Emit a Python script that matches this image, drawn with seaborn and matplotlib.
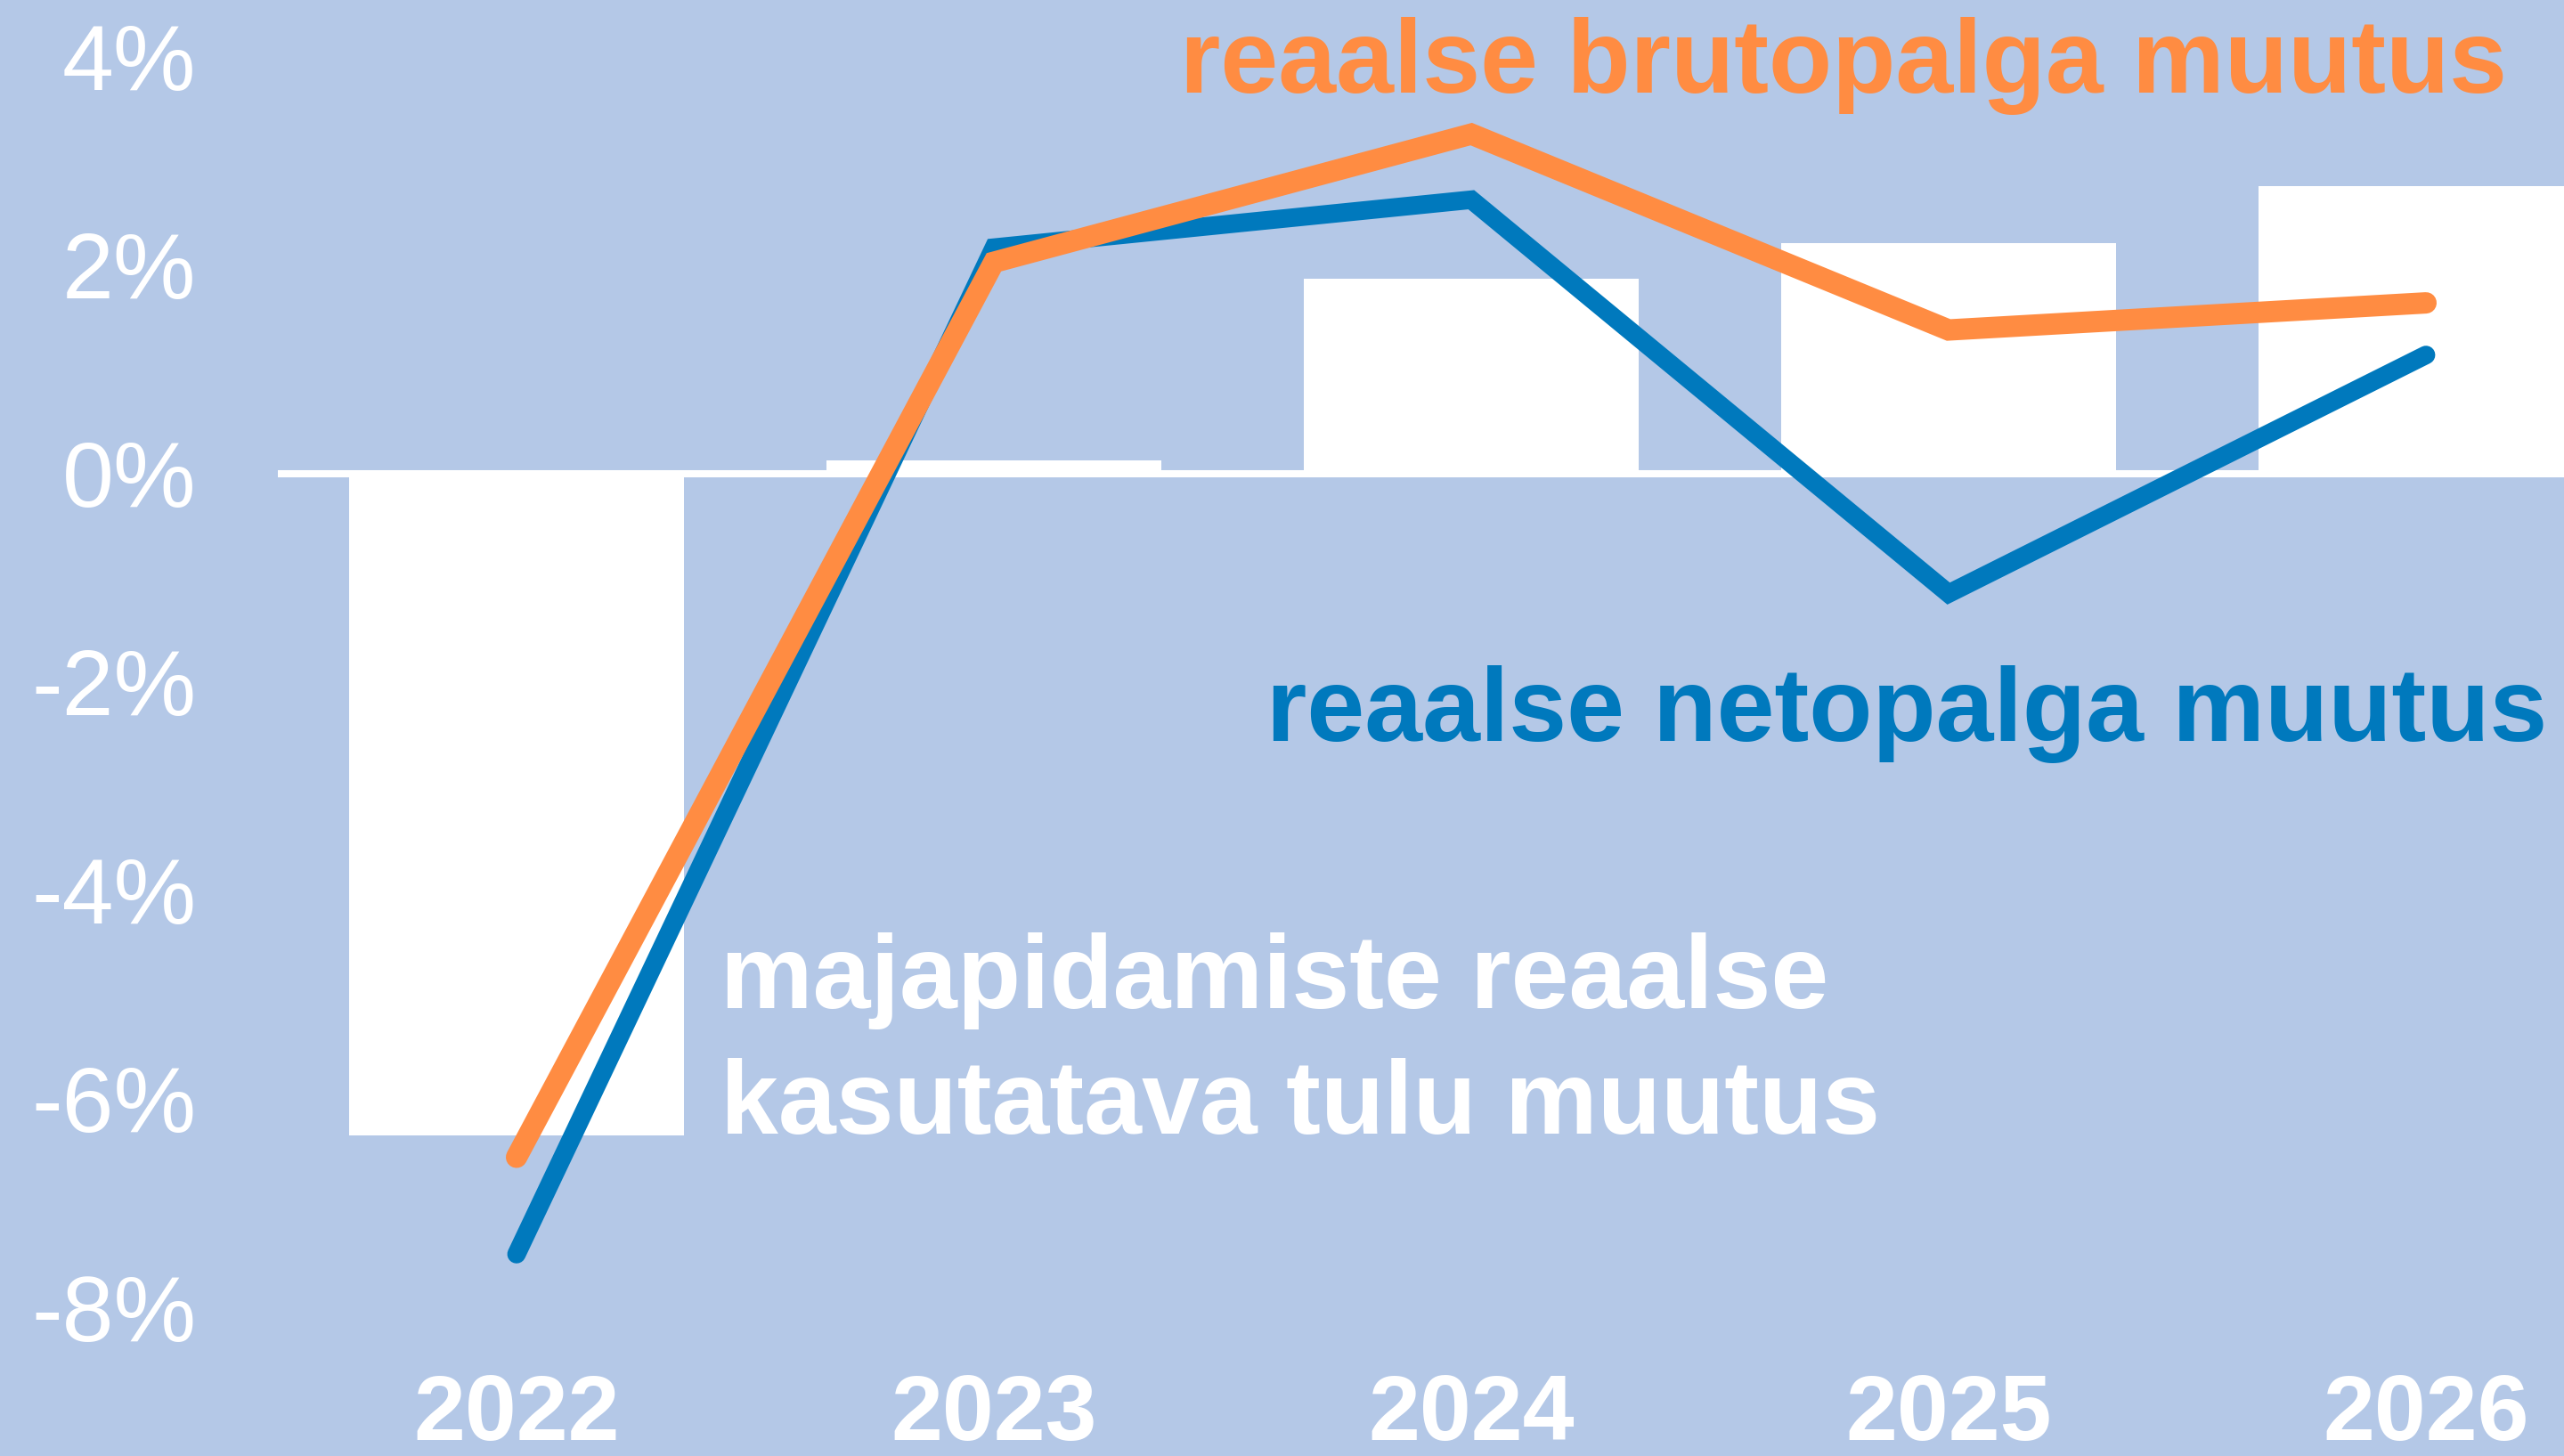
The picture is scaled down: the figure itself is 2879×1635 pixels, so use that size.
import pandas as pd
import numpy as np
import seaborn as sns
import matplotlib.pyplot as plt

# andmed (protsentides), loetud jooniselt
aastad = [2022, 2023, 2024, 2025, 2026]
kasutatav_tulu = [-6.35, 0.13, 1.87, 2.21, 2.76]   # valged tulbad
brutopalk = [-6.56, 2.03, 3.26, 1.38, 1.64]
netopalk = [-7.49, 2.17, 2.63, -1.15, 1.14]
y_ticks = [-8, -6, -4, -2, 0, 2, 4]
y_labels = ['-8%', '-6%', '-4%', '-2%', '0%', '2%', '4%']
x_labels = ['2022', '2023', '2024', '2025', '2026']

taust = '#B4C8E7'
oranz = '#FF8C42'
sinine = '#0079BD'

df = pd.DataFrame({'aasta': aastad, 'tulu': kasutatav_tulu,
                   'bruto': brutopalk, 'neto': netopalk})

sns.set_theme(style='white', rc={'axes.facecolor': taust, 'figure.facecolor': taust})
plt.rcParams['font.family'] = ['Liberation Sans', 'DejaVu Sans']

fig = plt.figure(figsize=(28.79, 16.35), dpi=100)
# telg ulatub paremalt üle joonise serva (2026 tulp on lõigatud)
ax = fig.add_axes([0.10837, 0.06636, 0.93088, 0.93028])

sns.barplot(data=df, x='aasta', y='tulu', native_scale=True, color='white',
            saturation=1, width=0.7, linewidth=0, ax=ax, zorder=1)
ax.axhline(0, color='white', lw=5.8, zorder=2)

sns.lineplot(data=df, x='aasta', y='neto', color=sinine, linewidth=15,
             solid_capstyle='round', solid_joinstyle='miter', ax=ax, zorder=3)
sns.lineplot(data=df, x='aasta', y='bruto', color=oranz, linewidth=17.3,
             solid_capstyle='round', solid_joinstyle='miter', ax=ax, zorder=4)

ax.set_xlim(2021.5, 2026.5)
ax.set_ylim(-8.5, 4.5)

ax.set_xticks(aastad)
ax.set_xticklabels(x_labels, fontsize=75, fontweight='bold', color='white')
ax.set_yticks(y_ticks)
ax.set_yticklabels(y_labels, fontsize=75, color='white')
ax.tick_params(axis='x', length=0, pad=11)
ax.tick_params(axis='y', length=0, pad=66)
ax.set_xlabel('')
ax.set_ylabel('')
for s in ax.spines.values():
    s.set_visible(False)

# seeriate nimed
ax.text(2023.39, 3.66, 'reaalse brutopalga muutus', color=oranz, fontsize=84,
        fontweight='bold', ha='left', va='baseline')
ax.text(2023.57, -2.56, 'reaalse netopalga muutus', color=sinine, fontsize=84,
        fontweight='bold', ha='left', va='baseline')
ax.text(2022.427, -5.13, 'majapidamiste reaalse', color='white', fontsize=84,
        fontweight='bold', ha='left', va='baseline')
ax.text(2022.427, -6.33, 'kasutatava tulu muutus', color='white', fontsize=84,
        fontweight='bold', ha='left', va='baseline')

fig.savefig('out.png', dpi=100, facecolor=taust)
